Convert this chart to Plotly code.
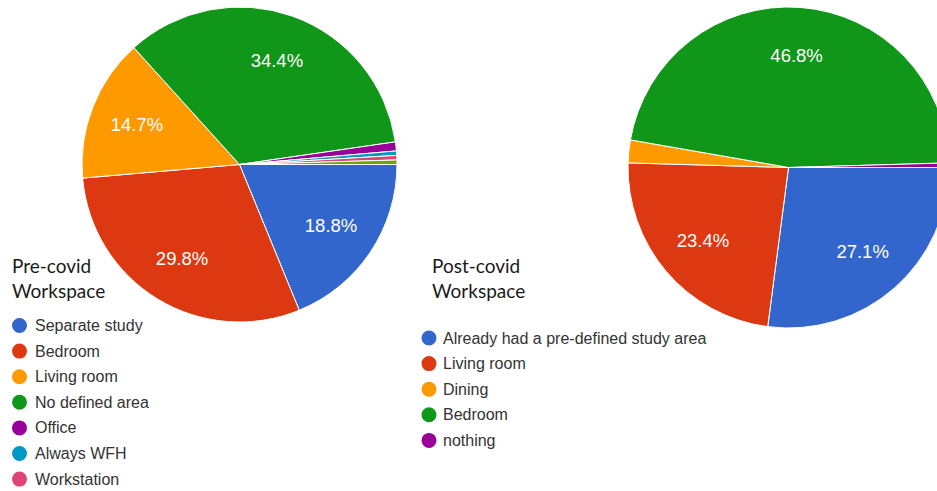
import plotly.graph_objects as go

# Response counts per workspace option (same respondents, before and after covid)
pre_labels = ["Separate study", "Bedroom", "Living room", "No defined area",
              "Office", "Always WFH", "Workstation", "Other"]
pre_counts = [41, 65, 32, 75, 2, 1, 1, 1]
pre_colors = ["#3366CC", "#DC3912", "#FF9900", "#109618",
              "#990099", "#0099C6", "#DD4477", "#66AA00"]
pre_legend_n = 7  # entries listed under the chart

post_labels = ["Already had a pre-defined study area", "Living room", "Dining",
               "Bedroom", "nothing"]
post_counts = [59, 51, 5, 102, 1]
post_colors = ["#3366CC", "#DC3912", "#FF9900", "#109618", "#990099"]

W, H = 950, 491          # canvas is a little wider than the page so the right pie is cut
SLICE_FONT = dict(family="Liberation Sans, Arial, sans-serif", size=18.5, color="white")
LEGEND_FONT = dict(family="Liberation Sans, Arial, sans-serif", size=16, color="#333333")
TITLE_FONT = dict(family="Lato, sans-serif", size=19, color="#1a1a1a")


def px_x(x):
    return x / W


def px_y(y):
    return 1 - y / H


def pie_pair(labels, counts, colors, box, min_share=0.05):
    """Filled pie plus a transparent ring on top that carries the percentage labels
    (the ring keeps the labels out towards the rim)."""
    total = sum(counts)
    tmpl = ["%{percent:.1%}" if c / total >= min_share else "" for c in counts]
    x0, y0, x1, y1 = box
    dom = dict(x=[px_x(x0), px_x(x1)], y=[px_y(y1), px_y(y0)])
    base = go.Pie(
        labels=labels, values=counts, sort=False, direction="clockwise",
        rotation=90, marker=dict(colors=colors, line=dict(color="white", width=1)),
        textinfo="none", showlegend=False, hoverinfo="label+percent", domain=dom,
    )
    text_ring = go.Pie(
        labels=labels, values=counts, sort=False, direction="clockwise",
        rotation=90, hole=0.4,
        marker=dict(colors=["rgba(0,0,0,0)"] * len(counts), line=dict(width=0)),
        texttemplate=tmpl, textposition="inside", insidetextorientation="horizontal",
        textfont=SLICE_FONT, showlegend=False, hoverinfo="skip", domain=dom,
    )
    return [base, text_ring]


fig = go.Figure()
fig.add_traces(pie_pair(pre_labels, pre_counts, pre_colors, (82, 7, 397, 322)))
fig.add_traces(pie_pair(post_labels, post_counts, post_colors, (628, 7, 949, 328)))

shapes, annotations = [], []


def add_legend(title, x_title, labels, colors, x_dot, x_text, y_first, step):
    annotations.append(dict(
        text=title, x=px_x(x_title), y=px_y(278), xref="paper", yref="paper",
        xanchor="left", yanchor="middle", align="left", showarrow=False,
        font=TITLE_FONT))
    for i, (lab, col) in enumerate(zip(labels, colors)):
        y = y_first + i * step
        shapes.append(dict(
            type="circle", xref="paper", yref="paper",
            xsizemode="pixel", ysizemode="pixel",
            xanchor=px_x(x_dot), yanchor=px_y(y),
            x0=-7.5, x1=7.5, y0=-7.5, y1=7.5,
            fillcolor=col, line=dict(width=0)))
        annotations.append(dict(
            text=lab, x=px_x(x_text), y=px_y(y), xref="paper", yref="paper",
            xanchor="left", yanchor="middle", showarrow=False, font=LEGEND_FONT))


add_legend("Pre-covid<br>Workspace", 10, pre_labels[:pre_legend_n],
           pre_colors[:pre_legend_n], 19.5, 33, 325.5, 25.6)
add_legend("Post-covid<br>Workspace", 430, post_labels, post_colors,
           429, 441, 338, 25.6)

fig.update_layout(
    width=W, height=H, autosize=False,
    margin=dict(l=0, r=0, t=0, b=0),
    paper_bgcolor="white", plot_bgcolor="white",
    shapes=shapes, annotations=annotations,
)

fig.write_html(
    "out.html",
    post_script="document.documentElement.style.overflow='hidden';"
                "document.body.style.overflow='hidden';",
)
